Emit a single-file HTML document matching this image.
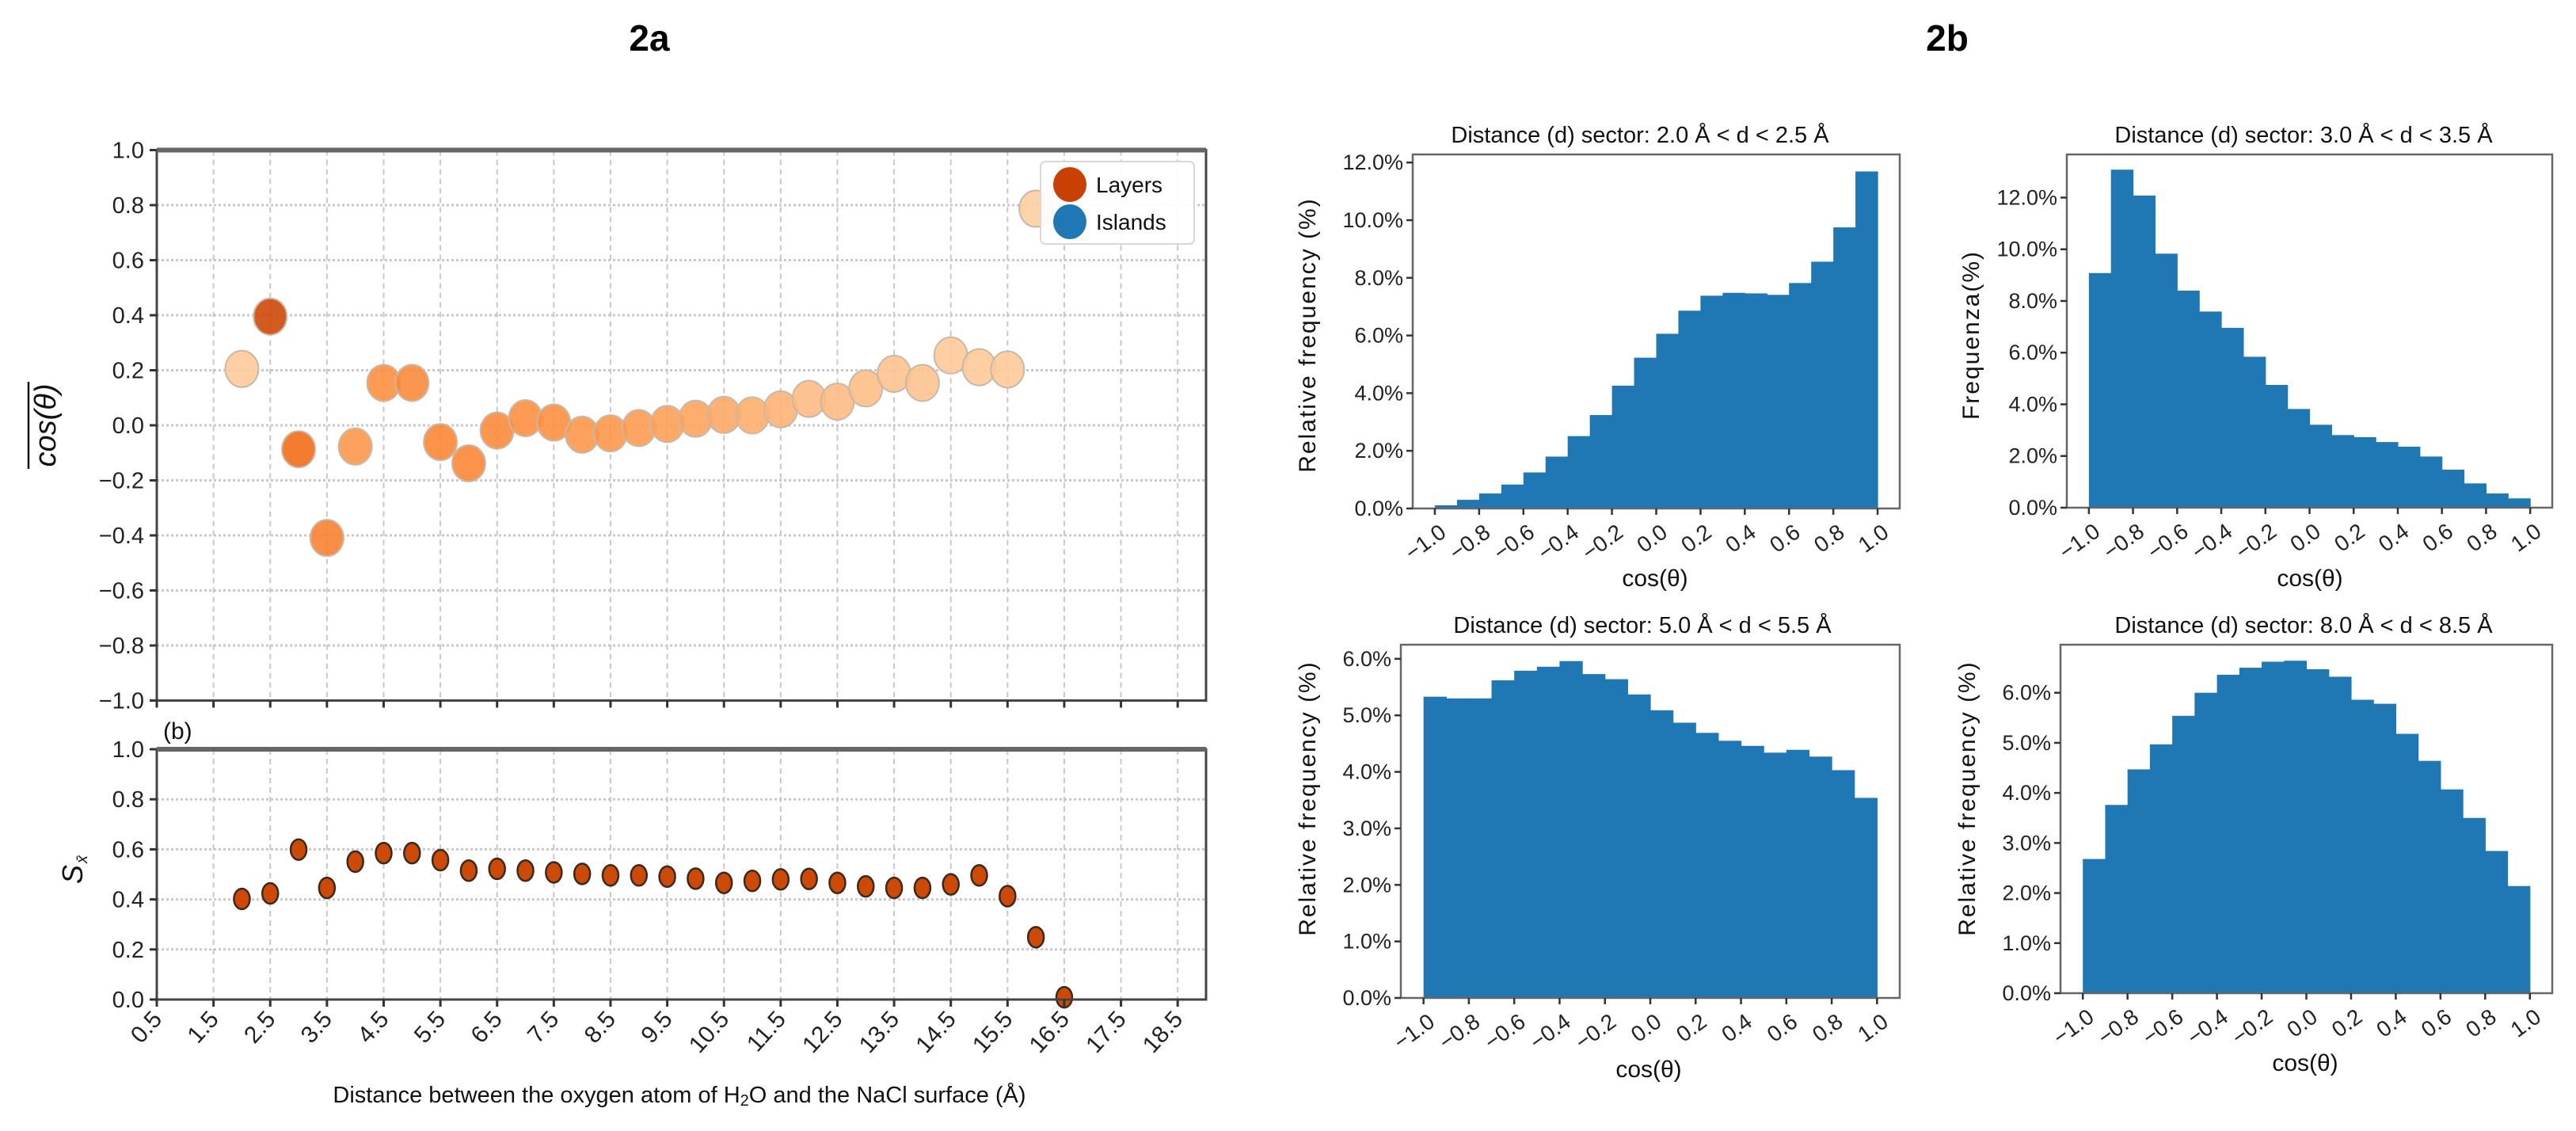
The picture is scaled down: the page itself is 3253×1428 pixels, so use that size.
<!DOCTYPE html>
<html><head><meta charset="utf-8"><title>2a / 2b</title>
<style>
html,body{margin:0;padding:0;background:#fff;}
svg{display:block;font-family:"Liberation Sans","DejaVu Sans",sans-serif;}
</style></head>
<body>
<svg id="fig" width="3253" height="1428" viewBox="0 0 3253 1428" xmlns="http://www.w3.org/2000/svg">
<text x="820" y="64" font-size="46" font-weight="bold" text-anchor="middle">2a</text>
<text x="2459" y="64" font-size="46" font-weight="bold" text-anchor="middle">2b</text>
</svg>
<script>
// ---------- data: panel 2a ----------
const distances = [2.0,2.5,3.0,3.5,4.0,4.5,5.0,5.5,6.0,6.5,7.0,7.5,8.0,8.5,9.0,9.5,10.0,10.5,11.0,11.5,12.0,12.5,13.0,13.5,14.0,14.5,15.0,15.5,16.0];
const cosMean = [0.205,0.395,-0.087,-0.409,-0.077,0.154,0.154,-0.061,-0.138,-0.019,0.026,0.010,-0.034,-0.029,-0.010,0.005,0.024,0.038,0.036,0.058,0.096,0.086,0.134,0.187,0.154,0.254,0.211,0.203,0.787];
const colorLevel = [0.28,0.78,0.62,0.55,0.47,0.5,0.52,0.53,0.53,0.52,0.5,0.5,0.47,0.47,0.45,0.44,0.42,0.4,0.38,0.36,0.33,0.33,0.32,0.3,0.3,0.28,0.28,0.28,0.26];
const sDistances = [2.0,2.5,3.0,3.5,4.0,4.5,5.0,5.5,6.0,6.5,7.0,7.5,8.0,8.5,9.0,9.5,10.0,10.5,11.0,11.5,12.0,12.5,13.0,13.5,14.0,14.5,15.0,15.5,16.0,16.5];
const sValues = [0.402,0.424,0.599,0.446,0.551,0.585,0.585,0.557,0.515,0.522,0.515,0.508,0.502,0.496,0.496,0.491,0.483,0.466,0.474,0.480,0.482,0.466,0.452,0.446,0.446,0.460,0.496,0.413,0.249,0.009];
const xTickLabels = ["0.5","1.5","2.5","3.5","4.5","5.5","6.5","7.5","8.5","9.5","10.5","11.5","12.5","13.5","14.5","15.5","16.5","17.5","18.5"];
const cosTicks = [1.0,0.8,0.6,0.4,0.2,0.0,-0.2,-0.4,-0.6,-0.8,-1.0];
const sTicks = [1.0,0.8,0.6,0.4,0.2,0.0];
// ---------- data: panel 2b ----------
const binEdgesStart = [-1.0,-0.9,-0.8,-0.7,-0.6,-0.5,-0.4,-0.3,-0.2,-0.1,0.0,0.1,0.2,0.3,0.4,0.5,0.6,0.7,0.8,0.9];
const hist1 = [0.11,0.30,0.52,0.83,1.25,1.80,2.51,3.24,4.26,5.23,6.06,6.86,7.38,7.48,7.46,7.41,7.82,8.56,9.75,11.69];
const hist2 = [9.08,13.08,12.08,9.83,8.40,7.59,6.96,5.84,4.75,3.82,3.21,2.81,2.73,2.54,2.36,1.98,1.47,0.94,0.55,0.36];
const hist3 = [5.33,5.30,5.30,5.62,5.79,5.86,5.96,5.73,5.64,5.37,5.09,4.87,4.69,4.55,4.46,4.34,4.39,4.27,4.03,3.54];
const hist4 = [2.68,3.76,4.47,4.97,5.54,6.00,6.36,6.50,6.62,6.64,6.47,6.32,5.86,5.78,5.18,4.64,4.07,3.50,2.84,2.14];
const histXTicks = [-1.0,-0.8,-0.6,-0.4,-0.2,0.0,0.2,0.4,0.6,0.8,1.0];
const histTitles = ["Distance (d) sector: 2.0 Å < d < 2.5 Å","Distance (d) sector: 3.0 Å < d < 3.5 Å","Distance (d) sector: 5.0 Å < d < 5.5 Å","Distance (d) sector: 8.0 Å < d < 8.5 Å"];
const hist1YTicks = [0,2,4,6,8,10,12];
const hist2YTicks = [0,2,4,6,8,10,12];
const hist3YTicks = [0,1,2,3,4,5,6];
const hist4YTicks = [0,1,2,3,4,5,6];

const NS = "http://www.w3.org/2000/svg";
const svg = document.getElementById("fig");
function mk(tag, attrs, parent, text){
  const e = document.createElementNS(NS, tag);
  for (const k in attrs) e.setAttribute(k, attrs[k]);
  if (text !== undefined) e.textContent = text;
  (parent||svg).appendChild(e);
  return e;
}
const oranges = [[0,"#fff5eb"],[0.125,"#fee6ce"],[0.25,"#fdd0a2"],[0.375,"#fdae6b"],[0.5,"#fd8d3c"],[0.625,"#f16913"],[0.75,"#d94801"],[0.875,"#a63603"],[1,"#7f2704"]];
function hex(c){return [1,3,5].map(i=>parseInt(c.substr(i,2),16));}
function cmap(t){
  for(let i=1;i<oranges.length;i++){
    if(t<=oranges[i][0]){
      const a=hex(oranges[i-1][1]), b=hex(oranges[i][1]);
      const f=(t-oranges[i-1][0])/(oranges[i][0]-oranges[i-1][0]);
      return "rgb("+a.map((v,j)=>Math.round(v+(b[j]-v)*f)).join(",")+")";
    }
  }
  return oranges[oranges.length-1][1];
}

// ---------- Panel 2a axes ----------
const L = 198, R = 1523;
const xmin = 0.5, xmax = 19.0;
const xs = v => L + (v - xmin) / (xmax - xmin) * (R - L);
const topT = 189.5, topB = 884.5;
const ysTop = v => topT + (1 - v) / 2 * (topB - topT);
const botT = 946, botB = 1262;
const ysBot = v => botT + (1 - v) * (botB - botT);

function gridAndFrame(tp, bt, ticks, yfun, nameBase){
  const g = mk("g", {});
  
  
  xTickLabels.forEach(lbl => {
    const x = xs(parseFloat(lbl));
    mk("line",{x1:x,x2:x,y1:tp,y2:bt,stroke:"#c8c8c8","stroke-width":2,"stroke-dasharray":"7,5"},g);
  });
  ticks.forEach(t => {
    const y = yfun(t);
    mk("line",{x1:L,x2:R,y1:y,y2:y,stroke:"#c8c8c8","stroke-width":3,"stroke-dasharray":"3,3"},g);
  });
}
function frameTicks(tp, bt, ticks, yfun, nameBase, showXLabels){
  const fr = mk("rect",{x:L,y:tp,width:R-L,height:bt-tp,fill:"none",stroke:"#444","stroke-width":3});
  
  
  mk("line",{x1:L,x2:R,y1:tp,y2:tp,stroke:"#666","stroke-width":6});
  ticks.forEach(t=>{
    const y = yfun(t);
    mk("line",{x1:L-9,x2:L,y1:y,y2:y,stroke:"#333","stroke-width":3});
    const tx = mk("text",{x:L-16,y:y+10,"font-size":29,"text-anchor":"end",fill:"#222"},svg,t.toFixed(1).replace("-","−"));
    
    
  });
  xTickLabels.forEach(lbl=>{
    const x = xs(parseFloat(lbl));
    mk("line",{x1:x,x2:x,y1:bt,y2:bt+9,stroke:"#333","stroke-width":3});
    if(showXLabels){
      const tx = mk("text",{x:x+8,y:bt+26,"font-size":30,"text-anchor":"end",fill:"#222",transform:"rotate(-48 "+(x+8)+" "+(bt+26)+")"},svg,lbl);
      
      
    }
  });
}
gridAndFrame(topT, topB, cosTicks, ysTop, "cos-plot");
gridAndFrame(botT, botB, sTicks, ysBot, "s-plot");

// cos points
distances.forEach((d,i)=>{
  const c = mk("ellipse",{cx:xs(d),cy:ysTop(cosMean[i]),rx:21,ry:23,fill:cmap(colorLevel[i]),"fill-opacity":0.88,stroke:"#c9b8a8","stroke-width":2});
  
  
});
// S points
sDistances.forEach((d,i)=>{
  const c = mk("ellipse",{cx:xs(d),cy:ysBot(sValues[i]),rx:10,ry:13,fill:"#cc4a06",stroke:"#3a2a20","stroke-width":2.5});
  
  
});
frameTicks(topT, topB, cosTicks, ysTop, "cos-plot", false);
frameTicks(botT, botB, sTicks, ysBot, "s-plot", true);

// Legend
const lg = mk("g",{});


mk("rect",{x:1314,y:204,width:194,height:104,rx:6,fill:"#fff","fill-opacity":0.9,stroke:"#d8d8d8","stroke-width":2},lg);
const le1 = mk("g",{},lg);


mk("ellipse",{cx:1351,cy:233,rx:21,ry:22,fill:"#c84102"},le1);
mk("text",{x:1384,y:243,"font-size":28,fill:"#111"},le1,"Layers");
const le2 = mk("g",{},lg);


mk("ellipse",{cx:1351,cy:280,rx:21,ry:22,fill:"#1f77b4"},le2);
mk("text",{x:1384,y:290,"font-size":28,fill:"#111"},le2,"Islands");

// labels
const yl1 = mk("text",{x:0,y:0,"font-size":38,"font-style":"italic","text-anchor":"middle",fill:"#111",transform:"translate(70 537) rotate(-90)"},svg,"cos(θ)");


mk("line",{x1:36,x2:36,y1:482,y2:592,stroke:"#111","stroke-width":2.5});
const yl2 = mk("text",{x:0,y:0,"font-size":36,"font-style":"italic","text-anchor":"middle",fill:"#111",transform:"translate(104 1104) rotate(-90)"},svg,"S");


mk("text",{x:0,y:0,"font-size":20,"font-style":"italic",fill:"#111",transform:"translate(110 1090) rotate(-90)"},svg,"x̄");
const bl = mk("text",{x:206,y:933,"font-size":30,fill:"#111"},svg,"(b)");


const xl = mk("text",{x:858,y:1392,"font-size":29,"text-anchor":"middle",fill:"#111"},svg,"");


xl.innerHTML = 'Distance between the oxygen atom of H<tspan font-size="20" dy="4">2</tspan><tspan dy="-4">O and the NaCl surface (Å)</tspan>';

// ---------- Panel 2b histograms ----------
const panels = [
  {vals:hist1, ticks:hist1YTicks, l:1784, r:2399, t:195, b:642, ymax:12.28, title:histTitles[0], tx:2071, ty:180, ylab:"Relative frequency (%)", ylx:1651, yly:423, xlx:2090, xly:740, name:"hist-2-0"},
  {vals:hist2, ticks:hist2YTicks, l:2610, r:3223, t:195, b:641, ymax:13.67, title:histTitles[1], tx:2909, ty:180, ylab:"Frequenza(%)", ylx:2489, yly:423, xlx:2917, xly:740, name:"hist-3-0"},
  {vals:hist3, ticks:hist3YTicks, l:1769, r:2399, t:814, b:1260, ymax:6.25, title:histTitles[2], tx:2074, ty:799, ylab:"Relative frequency (%)", ylx:1651, yly:1008, xlx:2082, xly:1360, name:"hist-5-0"},
  {vals:hist4, ticks:hist4YTicks, l:2602, r:3223, t:814, b:1254, ymax:6.96, title:histTitles[3], tx:2909, ty:799, ylab:"Relative frequency (%)", ylx:2484, yly:1008, xlx:2911, xly:1352, name:"hist-8-0"}
];
panels.forEach(p=>{
  const g = mk("g",{});
  
  
  const xf = v => p.l + (v + 1.1) / 2.2 * (p.r - p.l);
  const yf = v => p.b - v / p.ymax * (p.b - p.t);
  p.vals.forEach((v,i)=>{
    const x0 = xf(binEdgesStart[i]), x1 = xf(binEdgesStart[i] + 0.1);
    const bar = mk("rect",{x:x0,y:yf(v),width:x1-x0+0.6,height:p.b-yf(v),fill:"#1f77b4"},g);
    
    
  });
  mk("rect",{x:p.l,y:p.t,width:p.r-p.l,height:p.b-p.t,fill:"none",stroke:"#666","stroke-width":2.5},g);
  p.ticks.forEach(t=>{
    const y = yf(t);
    mk("line",{x1:p.l-8,x2:p.l,y1:y,y2:y,stroke:"#333","stroke-width":2.5},g);
    const tx = mk("text",{x:p.l-12,y:y+9,"font-size":27,"text-anchor":"end",fill:"#222"},g,t.toFixed(1)+"%");
    
    
  });
  histXTicks.forEach(t=>{
    const x = xf(t);
    mk("line",{x1:x,x2:x,y1:p.b,y2:p.b+8,stroke:"#333","stroke-width":2.5},g);
    const lx = x + 16, ly = p.b + 34;
    const tx = mk("text",{x:lx,y:ly,"font-size":28,"text-anchor":"end",fill:"#222",transform:"rotate(-36 "+lx+" "+ly+")"},g,t.toFixed(1).replace("-","−"));
    
    
  });
  const ti = mk("text",{x:p.tx,y:p.ty,"font-size":29,"text-anchor":"middle",fill:"#111"},g,p.title);
  
  
  const yl = mk("text",{x:0,y:0,"font-size":30,"letter-spacing":2,"text-anchor":"middle",fill:"#111",transform:"translate("+(p.ylx+10)+" "+p.yly+") rotate(-90)"},g,p.ylab);
  
  
  const xlb = mk("text",{x:p.xlx,y:p.xly,"font-size":30,"text-anchor":"middle",fill:"#111"},g,"cos(θ)");
  
  
});
</script>
</body></html>
